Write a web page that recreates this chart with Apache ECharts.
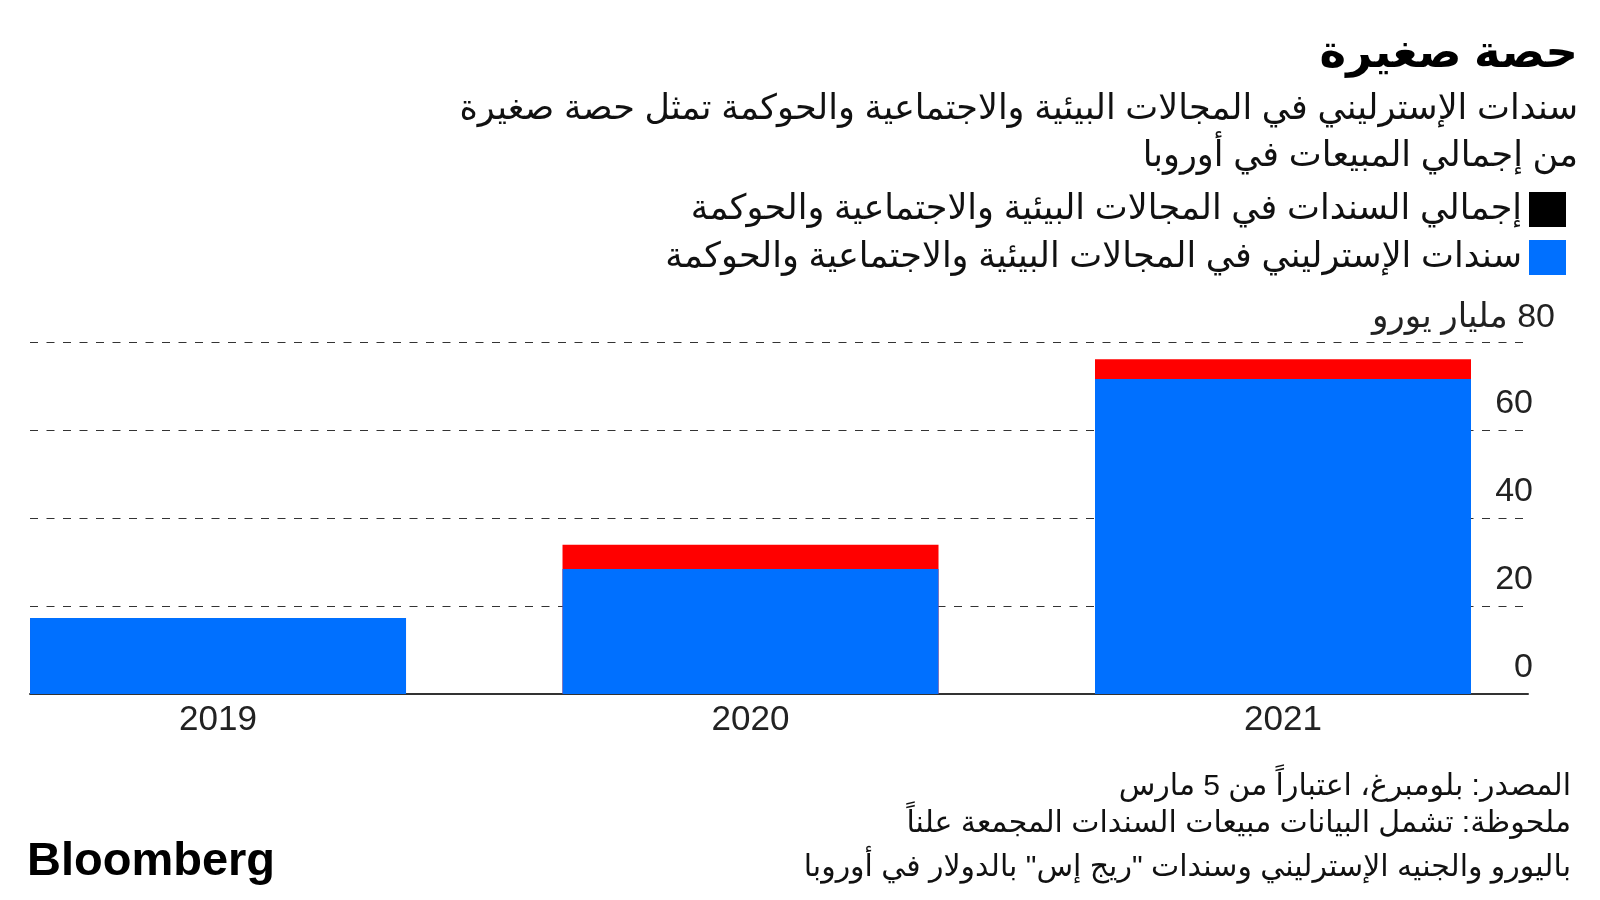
<!DOCTYPE html>
<html>
<head>
<meta charset="utf-8">
<script src="https://cdn.jsdelivr.net/npm/echarts@6/dist/echarts.min.js"></script>
<style>
html,body{margin:0;padding:0;background:#fff;}
#chart{width:1600px;height:900px;}
</style>
</head>
<body>
<div id="chart" dir="rtl"></div>
<script>
// ---- data ----
const years = ['2019', '2020', '2021'];
const totalEsg = [17.3, 33.9, 76.1];      // إجمالي السندات (red top)
const sterlingEsg = [17.3, 28.4, 71.6];   // سندات الإسترليني (blue)
const yTicks = [0, 20, 40, 60, 80];
const seriesNames = ['إجمالي السندات في المجالات البيئية والاجتماعية والحوكمة',
                     'سندات الإسترليني في المجالات البيئية والاجتماعية والحوكمة'];
const titleText = 'حصة صغيرة';
const subtitleLines = ['سندات الإسترليني في المجالات البيئية والاجتماعية والحوكمة تمثل حصة صغيرة',
                       'من إجمالي المبيعات في أوروبا'];
const footerLines = ['المصدر: بلومبرغ، اعتباراً من 5 مارس',
                     'ملحوظة: تشمل البيانات مبيعات السندات المجمعة علناً',
                     'باليورو والجنيه الإسترليني وسندات "ريج إس" بالدولار في أوروبا'];
const unitLabel = 'مليار يورو';

const FONT = "'Liberation Sans', 'DejaVu Sans', sans-serif";
const chart = echarts.init(document.getElementById('chart'));

const option = {
  backgroundColor: '#fff',
  animation: false,
  textStyle: { fontFamily: FONT },
  grid: { left: 30, right: 72, top: 342, bottom: 206, containLabel: false },
  legend: {
    orient: 'vertical',
    right: 29,
    top: 187,
    align: 'right',
    itemWidth: 37,
    itemHeight: 35,
    itemGap: 13,
    icon: 'rect',
    textStyle: { fontSize: 35, color: '#111', fontFamily: FONT, padding: [0, 2, 0, 0] },
    data: [
      { name: seriesNames[0], itemStyle: { color: '#000' } },
      { name: seriesNames[1], itemStyle: { color: '#0070FF' } }
    ],
    selectedMode: false
  },
  xAxis: {
    type: 'value',
    min: -0.3531,
    max: 2.4601,
    splitLine: { show: false },
    axisTick: { show: false },
    axisLine: { show: true, onZero: false, lineStyle: { color: '#333', width: 2 } },
    axisLabel: {
      customValues: [0, 1, 2],
      formatter: v => years[Math.round(v)],
      fontSize: 35, color: '#222', margin: 9, fontFamily: FONT
    }
  },
  yAxis: {
    type: 'value',
    position: 'right',
    min: 0, max: 80, interval: 20,
    axisLine: { show: false },
    axisTick: { show: false },
    splitLine: { show: true, lineStyle: { color: '#333', type: [8, 8.5], width: 1 } },
    axisLabel: {
      align: 'right',
      verticalAlign: 'bottom',
      margin: 27,
      formatter: v => v === 80 ? '{u|' + v + ' ' + unitLabel + '}' : '{n|' + v + '}',
      rich: {
        n: { fontSize: 34, color: '#222', padding: [0, 22, 9, 0], fontFamily: FONT },
        u: { fontSize: 34, color: '#222', padding: [0, 0, 7, 0], fontFamily: FONT }
      }
    }
  },
  series: [
    {
      name: seriesNames[0],
      type: 'bar',
      barWidth: 376,
      barGap: '-100%',
      itemStyle: { color: '#FF0000' },
      data: totalEsg.map((v, i) => [i, v])
    },
    {
      name: seriesNames[1],
      type: 'bar',
      barWidth: 376,
      barGap: '-100%',
      itemStyle: { color: '#0070FF' },
      data: sterlingEsg.map((v, i) => [i, v])
    }
  ],
  graphic: [
    { type: 'text', right: 22, top: 32, style: { text: titleText, font: "bold 45px " + FONT, fill: '#000', textAlign: 'right' } },
    { type: 'text', right: 22, top: 92, style: { text: subtitleLines[0], font: "35px " + FONT, fill: '#111', textAlign: 'right' } },
    { type: 'text', right: 22, top: 139, style: { text: subtitleLines[1], font: "35px " + FONT, fill: '#111', textAlign: 'right' } },
    { type: 'text', right: 29, top: 772, style: { text: footerLines[0], font: "30px " + FONT, fill: '#111', textAlign: 'right' } },
    { type: 'text', right: 29, top: 809, style: { text: footerLines[1], font: "30px " + FONT, fill: '#111', textAlign: 'right' } },
    { type: 'text', right: 29, top: 853, style: { text: footerLines[2], font: "30px " + FONT, fill: '#111', textAlign: 'right' } },
    { type: 'text', left: 27, top: 839, style: { text: 'Bloomberg', font: "bold 47px 'Liberation Sans', Arial, sans-serif", fill: '#000' } }
  ]
};
chart.setOption(option);
</script>
</body>
</html>
